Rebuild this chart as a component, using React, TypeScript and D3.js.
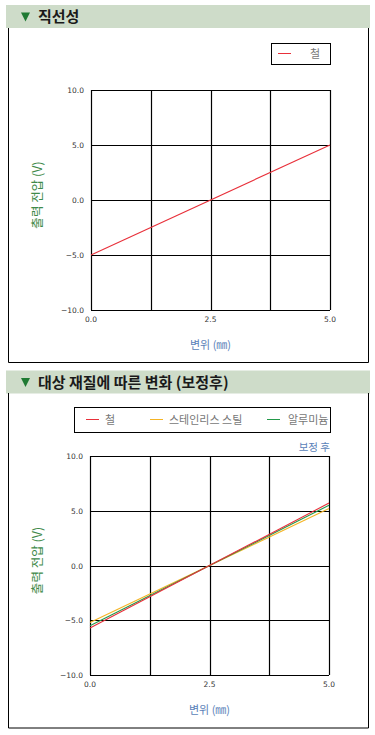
import React, { useEffect, useRef } from "react";
import * as d3 from "d3";

const W = 375;
const H = 735;

const X_DOMAIN = [0, 5];
const Y_DOMAIN = [-10, 10];
const X_GRID = [0, 1.25, 2.5, 3.75, 5];
const X_TICK_LABELS = [0, 2.5, 5];
const Y_TICKS = [-10, -5, 0, 5, 10];

const displacement = [0, 5];

// chart 1: iron only
const ironLinear = [-5, 5];

// chart 2: after correction
const ironCorrected = [-5.7, 5.7];
const stainlessCorrected = [-5.2, 5.2];
const aluminumCorrected = [-5.5, 5.5];

const TITLE_1 = "직선성";
const TITLE_2 = "대상 재질에 따른 변화 (보정후)";
const X_TITLE = "변위 (㎜)";
const Y_TITLE = "출력 전압 (V)";

const KR_FONT = "'Noto Sans CJK KR', 'Noto Sans', sans-serif";
const NUM_FONT = "'DejaVu Sans', Verdana, sans-serif";

const RED = "#e8303a";
const ORANGE = "#f5b424";
const GREEN = "#23994a";

function drawHeader(svg: any, y: number, text: string) {
  svg.append("rect")
    .attr("x", 6).attr("y", y).attr("width", 364).attr("height", 23)
    .attr("fill", "#cedcc9");
  svg.append("path")
    .attr("d", `M21,${y + 7.5} L30,${y + 7.5} L25.5,${y + 16.5} Z`)
    .attr("fill", "#1f7a33");
  svg.append("text")
    .attr("x", 38).attr("y", y + 17)
    .attr("font-family", KR_FONT)
    .attr("font-size", 15)
    .attr("font-weight", "bold")
    .attr("fill", "#1a1a1a")
    .text(text);
}

function drawPanel(svg: any, top: number, bottom: number) {
  svg.append("path")
    .attr("d", `M8.5,${top} L8.5,${bottom} L368.5,${bottom} L368.5,${top}`)
    .attr("fill", "none")
    .attr("stroke", "#000")
    .attr("stroke-width", 1);
}

function drawPlot(svg: any, box: any, series: any[]) {
  const x = d3.scaleLinear().domain(X_DOMAIN).range([box.left, box.right]);
  const y = d3.scaleLinear().domain(Y_DOMAIN).range([box.bottom, box.top]);

  const g = svg.append("g");

  // grid
  g.selectAll(".vg").data(X_GRID).enter().append("line")
    .attr("x1", (d: number) => Math.round(x(d)) + 0.5)
    .attr("x2", (d: number) => Math.round(x(d)) + 0.5)
    .attr("y1", box.top).attr("y2", box.bottom)
    .attr("stroke", "#000").attr("stroke-width", 1.2);
  g.selectAll(".hg").data(Y_TICKS).enter().append("line")
    .attr("y1", (d: number) => Math.round(y(d)) + 0.5)
    .attr("y2", (d: number) => Math.round(y(d)) + 0.5)
    .attr("x1", box.left).attr("x2", box.right)
    .attr("stroke", "#000").attr("stroke-width", 1.2);

  // y labels
  g.selectAll(".yl").data(Y_TICKS).enter().append("text")
    .attr("x", box.left - 7)
    .attr("y", (d: number) => y(d) + 3)
    .attr("text-anchor", "end")
    .attr("font-family", NUM_FONT)
    .attr("font-size", 7.5)
    .attr("fill", "#333")
    .text((d: number) => d3.format(".1f")(d).replace("-", "–"));

  // x labels
  g.selectAll(".xl").data(X_TICK_LABELS).enter().append("text")
    .attr("x", (d: number) => x(d))
    .attr("y", box.bottom + 12)
    .attr("text-anchor", "middle")
    .attr("font-family", NUM_FONT)
    .attr("font-size", 7.5)
    .attr("fill", "#333")
    .text((d: number) => d3.format(".1f")(d));

  // lines
  const line = d3.line<number>()
    .x((d, i) => x(displacement[i]))
    .y((d) => y(d));
  for (const s of series) {
    g.append("path")
      .datum(s.values)
      .attr("d", line)
      .attr("fill", "none")
      .attr("stroke", s.color)
      .attr("stroke-width", 1.1);
  }

  // axis titles
  g.append("text")
    .attr("x", (box.left + box.right) / 2)
    .attr("y", box.bottom + 39)
    .attr("text-anchor", "middle")
    .attr("font-family", KR_FONT)
    .attr("font-size", 11)
    .attr("fill", "#5a7fb8")
    .text(X_TITLE);
  g.append("text")
    .attr("transform", `translate(42,${(box.top + box.bottom) / 2 - 5}) rotate(-90)`)
    .attr("text-anchor", "middle")
    .attr("font-family", KR_FONT)
    .attr("font-size", 12.5)
    .attr("fill", "#3f8a4a")
    .text(Y_TITLE);
}

function drawLegend(svg: any, box: any, items: any[]) {
  svg.append("rect")
    .attr("x", box.x + 0.5).attr("y", box.y + 0.5)
    .attr("width", box.w).attr("height", box.h)
    .attr("fill", "#fff").attr("stroke", "#000").attr("stroke-width", 1);
  const cy = box.y + box.h / 2;
  for (const it of items) {
    svg.append("line")
      .attr("x1", it.lx).attr("x2", it.lx + 13)
      .attr("y1", cy).attr("y2", cy)
      .attr("stroke", it.color).attr("stroke-width", 1);
    svg.append("text")
      .attr("x", it.tx).attr("y", cy + 4)
      .attr("font-family", KR_FONT)
      .attr("font-size", 11)
      .attr("fill", "#777")
      .text(it.label);
  }
}

export default function App() {
  const ref = useRef<SVGSVGElement>(null);

  useEffect(() => {
    const svg = d3.select(ref.current);
    svg.selectAll("*").remove();

    svg.append("rect").attr("width", W).attr("height", H).attr("fill", "#fff");

    // --- section 1
    drawHeader(svg, 5, TITLE_1);
    drawPanel(svg, 28, 362.5);
    drawPlot(svg, { left: 91, right: 330, top: 90, bottom: 310 }, [
      { values: ironLinear, color: RED },
    ]);
    drawLegend(svg, { x: 271, y: 43, w: 59, h: 21 }, [
      { lx: 278, tx: 310, color: RED, label: "철" },
    ]);

    // --- section 2
    drawHeader(svg, 370.5, TITLE_2);
    drawPanel(svg, 393, 728);
    drawPlot(svg, { left: 90, right: 329, top: 456, bottom: 675 }, [
      { values: stainlessCorrected, color: ORANGE },
      { values: aluminumCorrected, color: GREEN },
      { values: ironCorrected, color: RED },
    ]);
    drawLegend(svg, { x: 74, y: 407, w: 256, h: 25 }, [
      { lx: 86, tx: 105, color: RED, label: "철" },
      { lx: 150, tx: 169, color: ORANGE, label: "스테인리스 스틸" },
      { lx: 267, tx: 288, color: GREEN, label: "알루미늄" },
    ]);
    svg.append("text")
      .attr("x", 330).attr("y", 451)
      .attr("text-anchor", "end")
      .attr("font-family", KR_FONT)
      .attr("font-size", 10.5)
      .attr("fill", "#5a7fb8")
      .text("보정 후");
  }, []);

  return (
    <div style={{ position: "absolute", left: 0, top: 0 }}>
      <svg ref={ref} width={W} height={H} style={{ display: "block" }} />
    </div>
  );
}
